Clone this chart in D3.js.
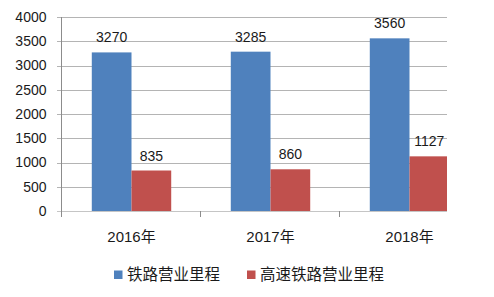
<!DOCTYPE html>
<html>
<head>
<meta charset="utf-8">
<script src="https://cdn.jsdelivr.net/npm/d3@7"></script>
<style>
  body { margin: 0; background: #fff; }
  text { font-family: "Liberation Sans", "Noto Sans CJK SC", sans-serif; fill: #1a1a1a; }
</style>
</head>
<body>
<svg id="chart"></svg>
<script>
// data
const years = ['2016年', '2017年', '2018年'];
const seriesNames = ['铁路营业里程', '高速铁路营业里程'];
const railway = [3270, 3285, 3560];
const highSpeed = [835, 860, 1127];
const yTicks = [0, 500, 1000, 1500, 2000, 2500, 3000, 3500, 4000];
const colors = ['#4f81bd', '#c0504d'];

const W = 494, H = 297;
const mLeft = 62, mBottom = 211, mTop = 17, clipRight = 447;
const catWidth = 139;

const svg = d3.select('#chart')
    .attr('width', W)
    .attr('height', H);

const x = d3.scaleBand()
    .domain(years)
    .range([mLeft, mLeft + catWidth * years.length])
    .paddingInner(0)
    .paddingOuter(0);

// two bars per category, gap = 1.5 bar widths
const xInner = d3.scaleBand()
    .domain(seriesNames)
    .range([0, x.bandwidth()])
    .paddingOuter(0.75);

const y = d3.scaleLinear()
    .domain([0, 4000])
    .range([mBottom, mTop]);

svg.append('defs').append('clipPath')
    .attr('id', 'plotClip')
    .append('rect')
    .attr('x', 0).attr('y', 0)
    .attr('width', clipRight).attr('height', H);

// gridlines
const plot = svg.append('g').attr('clip-path', 'url(#plotClip)');
plot.selectAll('.grid')
    .data(yTicks.filter(d => d > 0))
    .join('line')
    .attr('class', 'grid')
    .attr('x1', mLeft - 5)
    .attr('x2', W)
    .attr('y1', d => Math.round(y(d)) + 0.5)
    .attr('y2', d => Math.round(y(d)) + 0.5)
    .attr('stroke', '#b4b4b4')
    .attr('stroke-width', 1);

// bars
const data = years.map((yr, i) => ({ year: yr, values: [railway[i], highSpeed[i]] }));
const groups = plot.selectAll('.group')
    .data(data)
    .join('g')
    .attr('class', 'group')
    .attr('transform', d => `translate(${x(d.year)},0)`);

groups.selectAll('rect')
    .data(d => d.values.map((v, j) => ({ name: seriesNames[j], value: v, j })))
    .join('rect')
    .attr('x', d => xInner(d.name))
    .attr('width', xInner.bandwidth())
    .attr('y', d => y(d.value))
    .attr('height', d => mBottom - y(d.value))
    .attr('fill', d => colors[d.j]);

// value labels
groups.selectAll('.val')
    .data(d => d.values.map((v, j) => ({ name: seriesNames[j], value: v })))
    .join('text')
    .attr('class', 'val')
    .attr('x', d => xInner(d.name) + xInner.bandwidth() / 2)
    .attr('y', d => y(d.value) - 10)
    .attr('text-anchor', 'middle')
    .attr('font-size', 14)
    .text(d => d.value);

// x axis
const xAxis = d3.axisBottom(x)
    .tickSize(0)
    .tickPadding(20);
const xAxisG = svg.append('g')
    .attr('clip-path', 'url(#plotClip)')
    .attr('transform', `translate(0,${mBottom + 0.5})`)
    .call(xAxis);
xAxisG.select('.domain').attr('stroke', '#8c8c8c').attr('d', `M${mLeft - 5},0H${W}`);
xAxisG.selectAll('text').attr('font-size', 15).attr('fill', '#1a1a1a');

// category separator ticks
svg.append('g').selectAll('line')
    .data([0, 1, 2, 3].filter(i => mLeft + i * catWidth < clipRight))
    .join('line')
    .attr('x1', i => Math.round(mLeft + i * catWidth) - 0.5)
    .attr('x2', i => Math.round(mLeft + i * catWidth) - 0.5)
    .attr('y1', mBottom)
    .attr('y2', mBottom + 6)
    .attr('stroke', '#8c8c8c');

// y axis
const yAxis = d3.axisLeft(y)
    .tickValues(yTicks)
    .tickFormat(d3.format('d'))
    .tickSize(0)
    .tickPadding(15);
const yAxisG = svg.append('g')
    .attr('transform', `translate(${mLeft - 0.5},0)`)
    .call(yAxis);
yAxisG.select('.domain').attr('stroke', '#8c8c8c').attr('d', `M0,${mTop}V${mBottom + 6}`);
yAxisG.selectAll('text').attr('font-size', 14).attr('fill', '#1a1a1a');

// legend
const legend = svg.append('g').attr('transform', 'translate(114,270)');
const legendX = [0, 133];
const items = legend.selectAll('.item')
    .data(seriesNames)
    .join('g')
    .attr('class', 'item')
    .attr('transform', (d, i) => `translate(${legendX[i]},0)`);
items.append('rect')
    .attr('width', 8.5).attr('height', 8.5)
    .attr('y', 0.5)
    .attr('fill', (d, i) => colors[i]);
items.append('text')
    .attr('x', 13)
    .attr('y', 10)
    .attr('font-size', 15.5)
    .attr('fill', '#444')
    .text(d => d);
</script>
</body>
</html>
